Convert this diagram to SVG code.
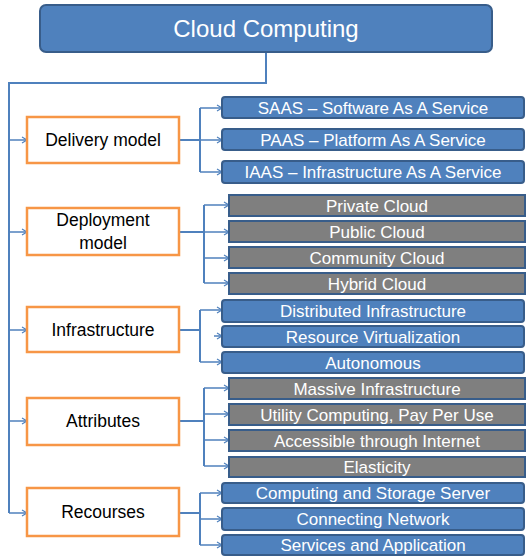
<svg xmlns="http://www.w3.org/2000/svg" width="526" height="556" viewBox="0 0 526 556">
<defs>
<marker id="arr" markerWidth="8" markerHeight="8" refX="6" refY="4" orient="auto" markerUnits="userSpaceOnUse">
<polyline points="1,1 6,4 1,7" fill="none" stroke="#4F81BD" stroke-width="1.2"/>
</marker>
</defs>
<style>
.top{fill:#4F81BD;stroke:#385D8A;stroke-width:2}
.cat{fill:#FFFFFF;stroke:#F79646;stroke-width:2.5}
.blue{fill:#4F81BD;stroke:#385D8A;stroke-width:2}
.gray{fill:#7F7F7F;stroke:#385D8A;stroke-width:2}
.lbl{font-family:"Liberation Sans",Arial,sans-serif;font-size:17px;text-anchor:middle}
.cl{font-size:17.5px}
.w{fill:#FFFFFF}
.k{fill:#000000}
.c{fill:none;stroke:#4F81BD;stroke-width:2}
.a{fill:none;stroke:#4F81BD;stroke-width:1.5;marker-end:url(#arr)}
</style>
<g id="connectors">
<polyline class="c" points="266,52 266,83 9,83 9,513"/>
<line class="a" x1="9" y1="140" x2="27" y2="140"/>
<line class="a" x1="9" y1="232" x2="27" y2="232"/>
<line class="a" x1="9" y1="330" x2="27" y2="330"/>
<line class="a" x1="9" y1="421" x2="27" y2="421"/>
<line class="a" x1="9" y1="513" x2="27" y2="513"/>
<line class="c" x1="179" y1="140" x2="200" y2="140"/>
<line class="c" x1="200" y1="108" x2="200" y2="172"/>
<line class="a" x1="200" y1="108" x2="222" y2="108"/>
<line class="a" x1="200" y1="140" x2="222" y2="140"/>
<line class="a" x1="200" y1="172" x2="222" y2="172"/>
<line class="c" x1="179" y1="232" x2="204" y2="232"/>
<line class="c" x1="204" y1="205" x2="204" y2="283"/>
<line class="a" x1="204" y1="205" x2="229" y2="205"/>
<line class="a" x1="204" y1="232" x2="229" y2="232"/>
<line class="a" x1="204" y1="258" x2="229" y2="258"/>
<line class="a" x1="204" y1="283" x2="229" y2="283"/>
<line class="c" x1="179" y1="330" x2="200" y2="330"/>
<line class="c" x1="200" y1="310" x2="200" y2="362"/>
<line class="a" x1="200" y1="310" x2="222" y2="310"/>
<line class="a" x1="214" y1="336" x2="222" y2="336"/>
<line class="a" x1="200" y1="362" x2="222" y2="362"/>
<line class="c" x1="179" y1="421" x2="204" y2="421"/>
<line class="c" x1="204" y1="388" x2="204" y2="466"/>
<line class="a" x1="204" y1="388" x2="229" y2="388"/>
<line class="a" x1="204" y1="414" x2="229" y2="414"/>
<line class="a" x1="204" y1="440" x2="229" y2="440"/>
<line class="a" x1="204" y1="466" x2="229" y2="466"/>
<line class="c" x1="179" y1="513" x2="200" y2="513"/>
<line class="c" x1="200" y1="493" x2="200" y2="545"/>
<line class="a" x1="200" y1="493" x2="222" y2="493"/>
<line class="a" x1="200" y1="519" x2="222" y2="519"/>
<line class="a" x1="200" y1="545" x2="222" y2="545"/>
</g>
<g id="cloud-computing">
<rect class="top" x="40" y="5" width="452" height="47" rx="6"/>
<text class="lbl w" x="266" y="37" style="font-size:24px">Cloud Computing</text>
</g>
<g id="delivery-model">
<rect class="cat" x="27" y="117" width="152" height="46"/>
<text class="lbl cl k" x="103" y="146">Delivery model</text>
</g>
<g id="saas"><rect class="blue" x="222" y="97" width="302" height="21" rx="3"/><text class="lbl w" x="373" y="114">SAAS – Software As A Service</text></g>
<g id="paas"><rect class="blue" x="222" y="129" width="302" height="21" rx="3"/><text class="lbl w" x="373" y="146">PAAS – Platform As A Service</text></g>
<g id="iaas"><rect class="blue" x="222" y="161" width="302" height="22" rx="3"/><text class="lbl w" x="373" y="178">IAAS – Infrastructure As A Service</text></g>
<g id="deployment-model">
<rect class="cat" x="27" y="208" width="152" height="47"/>
<text class="lbl cl k" x="103" y="226">Deployment</text>
<text class="lbl cl k" x="103" y="249">model</text>
</g>
<g id="private-cloud"><rect class="gray" x="229" y="195" width="296" height="21"/><text class="lbl w" x="377" y="212">Private Cloud</text></g>
<g id="public-cloud"><rect class="gray" x="229" y="221" width="296" height="21"/><text class="lbl w" x="377" y="238">Public Cloud</text></g>
<g id="community-cloud"><rect class="gray" x="229" y="247" width="296" height="21"/><text class="lbl w" x="377" y="264">Community Cloud</text></g>
<g id="hybrid-cloud"><rect class="gray" x="229" y="273" width="296" height="21"/><text class="lbl w" x="377" y="290">Hybrid Cloud</text></g>
<g id="infrastructure">
<rect class="cat" x="27" y="307" width="152" height="45"/>
<text class="lbl cl k" x="103" y="336">Infrastructure</text>
</g>
<g id="distributed-infrastructure"><rect class="blue" x="222" y="300" width="302" height="22" rx="3"/><text class="lbl w" x="373" y="317">Distributed Infrastructure</text></g>
<g id="resource-virtualization"><rect class="blue" x="222" y="326" width="302" height="21" rx="3"/><text class="lbl w" x="373" y="343">Resource Virtualization</text></g>
<g id="autonomous"><rect class="blue" x="222" y="352" width="302" height="21" rx="3"/><text class="lbl w" x="373" y="369">Autonomous</text></g>
<g id="attributes">
<rect class="cat" x="27" y="398" width="152" height="47"/>
<text class="lbl cl k" x="103" y="427">Attributes</text>
</g>
<g id="massive-infrastructure"><rect class="gray" x="229" y="378" width="296" height="21"/><text class="lbl w" x="377" y="395">Massive Infrastructure</text></g>
<g id="utility-computing"><rect class="gray" x="229" y="404" width="296" height="21"/><text class="lbl w" x="377" y="421">Utility Computing, Pay Per Use</text></g>
<g id="accessible-internet"><rect class="gray" x="229" y="430" width="296" height="21"/><text class="lbl w" x="377" y="447">Accessible through Internet</text></g>
<g id="elasticity"><rect class="gray" x="229" y="457" width="296" height="20"/><text class="lbl w" x="377" y="473">Elasticity</text></g>
<g id="recourses">
<rect class="cat" x="27" y="488" width="152" height="48"/>
<text class="lbl cl k" x="103" y="518">Recourses</text>
</g>
<g id="computing-storage"><rect class="blue" x="222" y="483" width="302" height="20" rx="3"/><text class="lbl w" x="373" y="499">Computing and Storage Server</text></g>
<g id="connecting-network"><rect class="blue" x="222" y="508" width="302" height="22" rx="3"/><text class="lbl w" x="373" y="525">Connecting Network</text></g>
<g id="services-application"><rect class="blue" x="222" y="535" width="302" height="20" rx="3"/><text class="lbl w" x="373" y="551">Services and Application</text></g>
</svg>
